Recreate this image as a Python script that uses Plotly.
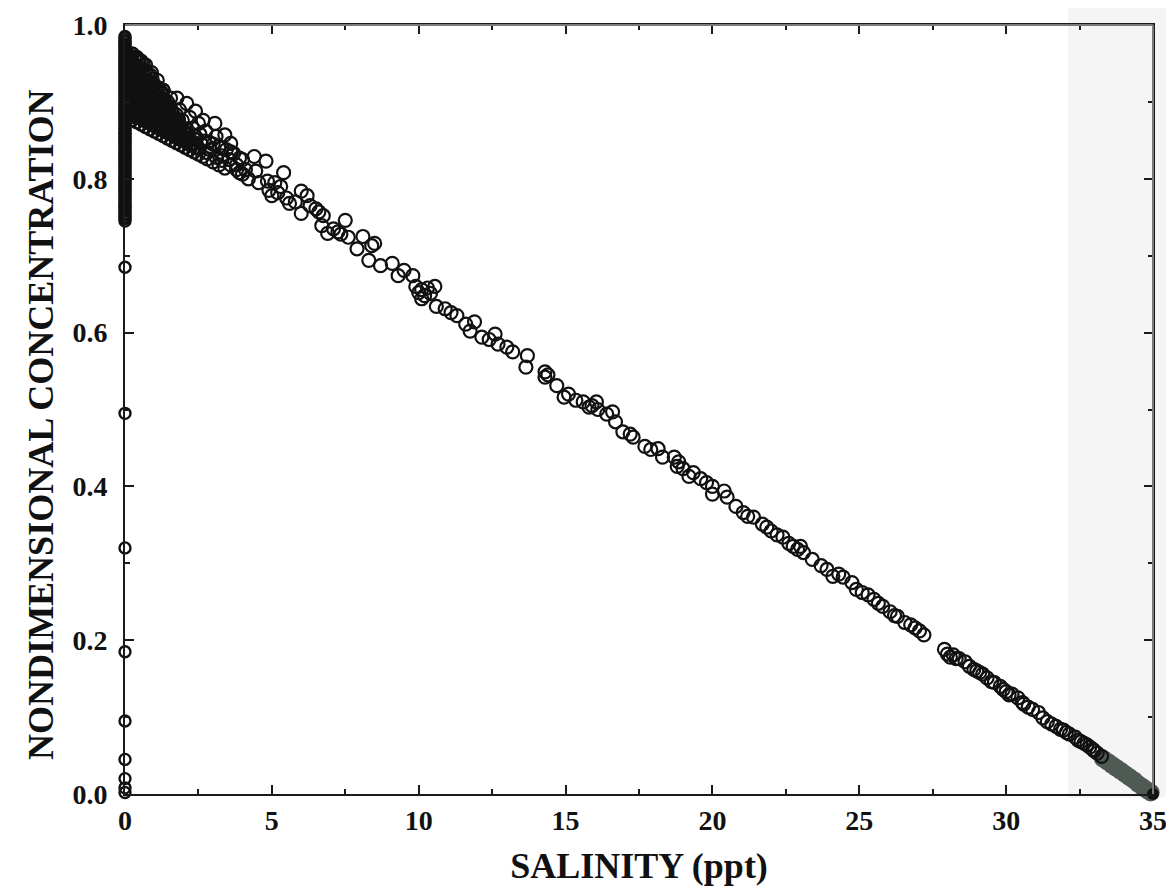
import plotly.graph_objects as go

# River end-member samples (salinity 0)
river_conc = [0.985, 0.980, 0.975, 0.970, 0.965, 0.960, 0.955, 0.950, 0.945, 0.940, 0.935,
              0.930, 0.925, 0.920, 0.915, 0.910, 0.905, 0.900, 0.895, 0.890, 0.885, 0.880,
              0.875, 0.870, 0.865, 0.860, 0.855, 0.850, 0.845, 0.840, 0.835, 0.830, 0.825,
              0.820, 0.815, 0.810, 0.805, 0.800, 0.795, 0.790, 0.785, 0.780, 0.775, 0.770,
              0.765, 0.760, 0.755, 0.750, 0.745,
              0.983, 0.978, 0.973, 0.968, 0.963, 0.958, 0.953, 0.948, 0.943, 0.938, 0.933,
              0.928, 0.923, 0.918, 0.913, 0.908, 0.903, 0.898, 0.893, 0.888, 0.883, 0.878,
              0.873, 0.868, 0.863, 0.858, 0.853, 0.848, 0.843, 0.838, 0.833, 0.828, 0.823,
              0.818, 0.813, 0.808, 0.803, 0.798, 0.793, 0.788, 0.783, 0.778, 0.773, 0.768,
              0.763, 0.758, 0.753, 0.748,
              0.685, 0.495, 0.320, 0.185, 0.095, 0.045, 0.020, 0.008, 0.002]
river_salinity = [0.0] * len(river_conc)

# Dense low-salinity samples (the black fan next to the river column)
fan_salinity = [0.10, 0.10, 0.10, 0.10, 0.10, 0.10, 0.10,
                0.25, 0.25, 0.25, 0.25, 0.25, 0.25, 0.25, 0.25,
                0.40, 0.40, 0.40, 0.40, 0.40, 0.40, 0.40, 0.40,
                0.55, 0.55, 0.55, 0.55, 0.55, 0.55, 0.55, 0.55,
                0.70, 0.70, 0.70, 0.70, 0.70, 0.70, 0.70,
                0.85, 0.85, 0.85, 0.85, 0.85, 0.85, 0.85,
                1.00, 1.00, 1.00, 1.00, 1.00, 1.00,
                1.15, 1.15, 1.15, 1.15, 1.15, 1.15,
                1.30, 1.30, 1.30, 1.30, 1.30, 1.30,
                1.45, 1.45, 1.45, 1.45, 1.45,
                1.60, 1.60, 1.60, 1.60,
                1.75, 1.75, 1.75, 1.75,
                1.90, 1.90, 1.90,
                2.05, 2.05, 2.05,
                2.20, 2.20, 2.35, 2.35, 2.50, 2.65, 2.80, 3.00, 3.20, 3.40,
                0.17, 0.17, 0.17, 0.17, 0.17, 0.17, 0.17,
                0.32, 0.32, 0.32, 0.32, 0.32, 0.32, 0.32,
                0.47, 0.47, 0.47, 0.47, 0.47, 0.47, 0.47,
                0.62, 0.62, 0.62, 0.62, 0.62, 0.62, 0.62,
                0.77, 0.77, 0.77, 0.77, 0.77, 0.77,
                0.92, 0.92, 0.92, 0.92, 0.92, 0.92,
                1.07, 1.07, 1.07, 1.07, 1.07,
                1.22, 1.22, 1.22, 1.22, 1.22,
                1.37, 1.37, 1.37, 1.37,
                1.52, 1.52, 1.52, 1.52,
                1.67, 1.67, 1.67,
                1.82, 1.82, 1.82,
                1.97, 1.97, 2.12, 2.12, 2.27, 2.42,
                2.20, 2.50, 2.80, 3.10, 3.30, 3.60, 3.80, 4.00,
                2.40, 2.70, 3.00, 3.30, 3.60, 3.90]
fan_conc = [0.880, 0.892, 0.905, 0.918, 0.930, 0.943, 0.955,
            0.877, 0.889, 0.901, 0.914, 0.926, 0.939, 0.951, 0.962,
            0.874, 0.886, 0.898, 0.910, 0.922, 0.935, 0.947, 0.958,
            0.871, 0.883, 0.895, 0.907, 0.919, 0.931, 0.943, 0.953,
            0.868, 0.880, 0.892, 0.904, 0.916, 0.928, 0.940,
            0.865, 0.877, 0.889, 0.901, 0.913, 0.925, 0.935,
            0.862, 0.874, 0.886, 0.898, 0.910, 0.922,
            0.859, 0.871, 0.883, 0.895, 0.907, 0.918,
            0.856, 0.868, 0.880, 0.892, 0.904, 0.915,
            0.853, 0.865, 0.877, 0.889, 0.900,
            0.850, 0.862, 0.874, 0.886,
            0.847, 0.859, 0.871, 0.883,
            0.844, 0.856, 0.868,
            0.841, 0.853, 0.865,
            0.838, 0.850, 0.835, 0.847, 0.832, 0.829, 0.826, 0.822, 0.818, 0.814,
            0.886, 0.898, 0.911, 0.924, 0.936, 0.949, 0.960,
            0.883, 0.895, 0.907, 0.920, 0.932, 0.945, 0.957,
            0.880, 0.892, 0.904, 0.916, 0.928, 0.941, 0.952,
            0.877, 0.889, 0.901, 0.913, 0.925, 0.937, 0.948,
            0.874, 0.886, 0.898, 0.910, 0.922, 0.934,
            0.871, 0.883, 0.895, 0.907, 0.919, 0.930,
            0.868, 0.880, 0.892, 0.904, 0.916,
            0.865, 0.877, 0.889, 0.901, 0.912,
            0.862, 0.874, 0.886, 0.898,
            0.859, 0.871, 0.883, 0.894,
            0.856, 0.868, 0.880,
            0.853, 0.865, 0.877,
            0.850, 0.862, 0.847, 0.859, 0.844, 0.841,
            0.845, 0.840, 0.834, 0.828, 0.824, 0.818, 0.812, 0.806,
            0.855, 0.849, 0.845, 0.840, 0.835, 0.827]

# Estuary samples along the mixing line
salinity = [0.10, 0.12, 0.15, 0.18, 0.25, 0.28, 0.30, 0.33, 0.38, 0.45, 0.50, 0.52, 0.58, 0.62,
            0.70, 0.75, 0.78, 0.82, 0.88, 0.90, 1.00, 1.05, 1.10, 1.15, 1.10, 1.25, 1.30, 1.35,
            1.40, 1.45, 1.55, 1.60, 1.70, 1.75, 1.77, 1.85, 1.95, 2.00, 2.05, 2.10, 2.20, 2.30,
            2.35, 2.40, 2.50, 2.55, 2.60, 2.66, 2.75, 2.85, 2.90, 3.06, 3.10, 3.20, 3.30, 3.40,
            3.45, 3.55, 3.60, 3.70, 3.80, 3.90, 4.00, 4.10, 4.20, 4.40, 4.45, 4.55, 4.80, 4.85,
            4.90, 5.00, 5.10, 5.20, 5.30, 5.40, 5.50, 5.60, 5.80, 6.00, 6.00, 6.20, 6.30, 6.50,
            6.60, 6.75, 6.70, 6.90, 7.10, 7.25, 7.35, 7.50, 7.60, 7.90, 8.10, 8.30, 8.50, 8.40,
            8.70, 9.10, 9.30, 9.50, 9.80, 9.90, 10.00, 10.10, 10.20, 10.30, 10.40, 10.10, 10.55,
            10.60, 10.90, 11.30, 11.60, 11.90, 11.75, 12.15, 12.60, 12.70, 13.00, 13.20, 13.70,
            13.65, 14.30, 14.30, 14.40, 14.70, 15.10, 15.60, 15.80, 15.90, 16.05, 16.10, 16.40,
            16.60, 16.70, 17.20, 17.30, 17.70, 18.15, 18.30, 18.70, 18.80, 18.85, 19.20, 19.35,
            19.80, 20.00, 20.00, 20.40, 20.50, 20.80, 21.05, 21.20, 21.40, 21.70, 22.00, 22.40,
            22.75, 22.90, 23.00, 23.10, 23.40, 23.90, 24.10, 24.45, 24.75, 24.90, 25.30, 25.50,
            25.80, 26.05, 26.30, 26.55, 26.90, 27.20, 27.90, 28.00, 28.20, 28.40, 28.60, 28.90,
            29.10, 29.35, 29.60, 29.80, 30.00, 30.20, 30.40, 30.75, 30.90, 31.10, 31.40, 31.70,
            31.95, 32.15, 32.35, 32.55, 32.75, 32.95, 33.10, 33.25,
            28.10, 28.30, 28.75, 29.00, 29.20, 29.50, 29.90, 30.10, 30.55, 30.60, 31.25, 31.55,
            31.85, 32.05, 32.45, 32.65, 32.85, 33.00, 22.20, 22.60, 23.70, 24.30, 25.10, 25.65,
            26.20, 26.75, 27.05, 17.90, 16.95, 19.00, 19.60, 21.85, 14.95, 15.35, 12.40, 11.10]
concentration = [0.960, 0.930, 0.905, 0.885, 0.962, 0.945, 0.920, 0.898, 0.880, 0.955, 0.935,
                 0.912, 0.893, 0.877, 0.948, 0.925, 0.905, 0.888, 0.872, 0.938, 0.918, 0.900,
                 0.882, 0.868, 0.928, 0.912, 0.915, 0.895, 0.878, 0.864, 0.905, 0.888, 0.872,
                 0.858, 0.905, 0.890, 0.876, 0.862, 0.850, 0.898, 0.880, 0.866, 0.852, 0.888,
                 0.872, 0.858, 0.845, 0.876, 0.862, 0.848, 0.838, 0.872, 0.855, 0.842, 0.830,
                 0.857, 0.838, 0.825, 0.846, 0.833, 0.818, 0.808, 0.825, 0.812, 0.800, 0.829,
                 0.810, 0.795, 0.823, 0.797, 0.785, 0.778, 0.795, 0.782, 0.790, 0.808, 0.775,
                 0.768, 0.770, 0.784, 0.755, 0.778, 0.765, 0.761, 0.757, 0.752, 0.739, 0.729,
                 0.735, 0.731, 0.728, 0.746, 0.724, 0.709, 0.725, 0.694, 0.716, 0.713, 0.687,
                 0.690, 0.674, 0.681, 0.674, 0.660, 0.652, 0.656, 0.648, 0.658, 0.651, 0.644,
                 0.660, 0.634, 0.631, 0.622, 0.611, 0.614, 0.602, 0.594, 0.598, 0.585, 0.581,
                 0.575, 0.570, 0.555, 0.549, 0.542, 0.545, 0.531, 0.520, 0.510, 0.503, 0.505,
                 0.510, 0.500, 0.494, 0.497, 0.484, 0.468, 0.464, 0.452, 0.449, 0.438, 0.438,
                 0.426, 0.432, 0.413, 0.418, 0.405, 0.390, 0.400, 0.394, 0.386, 0.374, 0.366,
                 0.361, 0.360, 0.351, 0.342, 0.334, 0.322, 0.318, 0.322, 0.314, 0.305, 0.292,
                 0.283, 0.282, 0.275, 0.266, 0.259, 0.253, 0.244, 0.237, 0.231, 0.223, 0.216,
                 0.207, 0.188, 0.182, 0.181, 0.176, 0.172, 0.162, 0.158, 0.151, 0.145, 0.140,
                 0.133, 0.130, 0.125, 0.113, 0.110, 0.106, 0.094, 0.088, 0.083, 0.078, 0.074,
                 0.068, 0.064, 0.058, 0.053, 0.049,
                 0.178, 0.176, 0.166, 0.160, 0.156, 0.146, 0.136, 0.129, 0.119, 0.117, 0.099,
                 0.091, 0.084, 0.080, 0.070, 0.066, 0.061, 0.056, 0.337, 0.326, 0.297, 0.286,
                 0.262, 0.248, 0.232, 0.220, 0.212, 0.448, 0.471, 0.423, 0.410, 0.347, 0.516,
                 0.512, 0.591, 0.626]

# Ocean end-member samples (shaded band in the scan)
ocean_salinity = [33.30, 33.45, 33.60, 33.75, 33.90, 34.05, 34.20, 34.35, 34.50, 34.65, 34.80, 34.92]
ocean_conc = [0.046, 0.042, 0.038, 0.034, 0.030, 0.026, 0.022, 0.018, 0.013, 0.009, 0.005, 0.002]

seawater_salinity = [35.0]
seawater_conc = [0.0]

x_ticks = [0, 5, 10, 15, 20, 25, 30, 35]
y_ticks = [0.0, 0.2, 0.4, 0.6, 0.8, 1.0]
y_tick_labels = ["0.0", "0.2", "0.4", "0.6", "0.8", "1.0"]

FONT = "Liberation Serif, Times New Roman, serif"
INK = "#111111"

fig = go.Figure()
fig.add_trace(go.Scatter(
    x=ocean_salinity, y=ocean_conc, mode="markers", cliponaxis=False,
    marker=dict(symbol="circle", size=18, color="#4f5a54", line=dict(width=0)),
    showlegend=False))
fig.add_trace(go.Scatter(
    x=river_salinity, y=river_conc, mode="markers", cliponaxis=False,
    marker=dict(symbol="circle-open", size=11, color=INK, line=dict(width=2.4)),
    showlegend=False))
fig.add_trace(go.Scatter(
    x=fan_salinity, y=fan_conc, mode="markers", cliponaxis=False,
    marker=dict(symbol="circle-open", size=13, color=INK, line=dict(width=2.2)),
    showlegend=False))
fig.add_trace(go.Scatter(
    x=salinity, y=concentration, mode="markers", cliponaxis=False,
    marker=dict(symbol="circle-open", size=13, color=INK, line=dict(width=2.2)),
    showlegend=False))
fig.add_trace(go.Scatter(
    x=seawater_salinity, y=seawater_conc, mode="markers", cliponaxis=False,
    marker=dict(symbol="circle", size=12, color=INK),
    showlegend=False))

# faint scan shading at the right edge
fig.add_shape(type="rect", xref="paper", yref="paper", x0=0.917, x1=1.03, y0=-0.005, y1=1.04,
              fillcolor="#f5f5f5", line=dict(width=0), layer="below")
# lighter top and right frame lines, as in the scan
fig.add_shape(type="line", xref="paper", yref="paper", x0=0, x1=1, y0=1, y1=1,
              line=dict(color="#7a7a7a", width=2), layer="above")
fig.add_shape(type="line", xref="paper", yref="paper", x0=1, x1=1, y0=0, y1=1,
              line=dict(color="#7a7a7a", width=2), layer="above")

axis_common = dict(
    showline=True, linecolor="#1a1a1a", linewidth=2, mirror="ticks",
    ticks="inside", tickcolor="#1a1a1a", tickwidth=1.5, ticklen=9,
    showgrid=False, zeroline=False,
    tickfont=dict(family=FONT, size=28, color=INK, weight="bold"),
)

fig.update_layout(
    width=1166, height=878,
    margin=dict(l=117, r=21, t=17, b=92, autoexpand=False),
    paper_bgcolor="white", plot_bgcolor="rgba(0,0,0,0)",
    xaxis=dict(range=[0, 35], tickvals=x_ticks,
               minor=dict(dtick=2.5, ticks="inside", ticklen=5, tickcolor="#1a1a1a", tickwidth=1.5),
               title=dict(text="SALINITY (ppt)", standoff=18,
                          font=dict(family=FONT, size=36, color=INK, weight="bold")),
               **axis_common),
    yaxis=dict(range=[0, 1.0], tickvals=y_ticks, ticktext=y_tick_labels,
               minor=dict(dtick=0.1, ticks="inside", ticklen=5, tickcolor="#1a1a1a", tickwidth=1.5),
               ticklabelstandoff=10,
               **axis_common),
    annotations=[dict(
        text="NONDIMENSIONAL CONCENTRATION", textangle=-90,
        xref="paper", yref="paper", x=(33 - 117) / 1028, y=0.48,
        xanchor="center", yanchor="middle", showarrow=False,
        font=dict(family=FONT, size=36, color=INK, weight="bold"))],
)

fig.write_html("out.html")
